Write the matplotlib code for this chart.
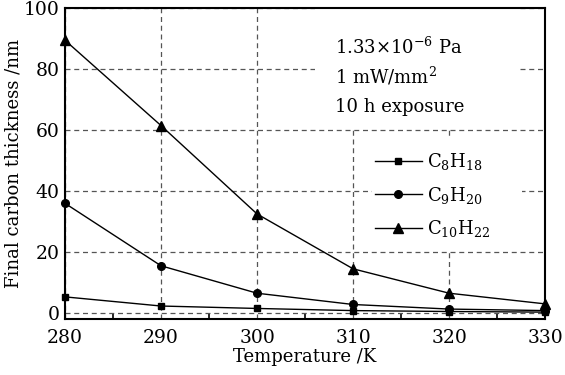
import matplotlib
matplotlib.use("Agg")
import matplotlib.pyplot as plt
from matplotlib.ticker import MultipleLocator
from matplotlib.patches import Rectangle

temps = [280, 290, 300, 310, 320, 330]
c8h18 = [5.3, 2.3, 1.5, 0.8, 0.5, 0.3]
c9h20 = [36.0, 15.5, 6.5, 2.8, 1.3, 0.8]
c10h22 = [89.5, 61.5, 32.5, 14.5, 6.5, 3.0]
labels = [r"C$_8$H$_{18}$", r"C$_9$H$_{20}$", r"C$_{10}$H$_{22}$"]
notes = [r"1.33$\times$10$^{-6}$ Pa", r"1 mW/mm$^2$", "10 h exposure"]

plt.rcParams["font.family"] = ["DejaVu Serif"]
plt.rcParams["mathtext.fontset"] = "dejavuserif"

fig = plt.figure(figsize=(5.65, 3.75), dpi=100)
ax = fig.add_axes([0.115, 0.149, 0.85, 0.829])

for ys, m, ms, lab in [(c8h18, "s", 4.5, labels[0]), (c9h20, "o", 5.5, labels[1]), (c10h22, "^", 6.5, labels[2])]:
    ax.plot(temps, ys, color="black", lw=1.0, marker=m, ms=ms, label=lab, zorder=5, clip_on=False)

ax.set_xlim(280, 330)
ax.set_ylim(-2, 100)
ax.xaxis.set_major_locator(MultipleLocator(10))
ax.xaxis.set_minor_locator(MultipleLocator(5))
ax.yaxis.set_major_locator(MultipleLocator(20))
ax.tick_params(which="both", direction="in", labelsize=13.5, width=1.2, top=False, right=False)
ax.tick_params(which="major", length=0)
ax.tick_params(axis="x", which="minor", length=4)
ax.tick_params(axis="x", pad=7)
ax.tick_params(axis="y", pad=4)
for s in ax.spines.values():
    s.set_linewidth(1.5)

ax.set_axisbelow(True)
ax.grid(True, which="major", color="#555555", ls=(0, (4, 3)), lw=0.9)

ax.set_xlabel("Temperature /K", fontsize=13, labelpad=1)
ax.set_ylabel("Final carbon thickness /nm", fontsize=13, labelpad=1)

# white areas hiding grid behind annotation and legend
ax.add_patch(Rectangle((0.52, 0.614), 0.428, 0.386, transform=ax.transAxes,
                       facecolor="white", edgecolor="none", zorder=1))
ax.add_patch(Rectangle((0.64, 0.222), 0.312, 0.363, transform=ax.transAxes,
                       facecolor="white", edgecolor="none", zorder=1))

for yy, t in zip([0.852, 0.758, 0.666], notes):
    ax.text(0.5625, yy, t, transform=ax.transAxes, fontsize=13,
            va="baseline", ha="left", zorder=3)

leg = ax.legend(loc="center left", bbox_to_anchor=(0.645, 0.399), fontsize=13,
                frameon=False, handlelength=2.6, handletextpad=0.3, labelspacing=0.7,
                borderpad=0.0, borderaxespad=0)
leg.set_zorder(3)

fig.savefig("out.png", dpi=100, facecolor="white")
